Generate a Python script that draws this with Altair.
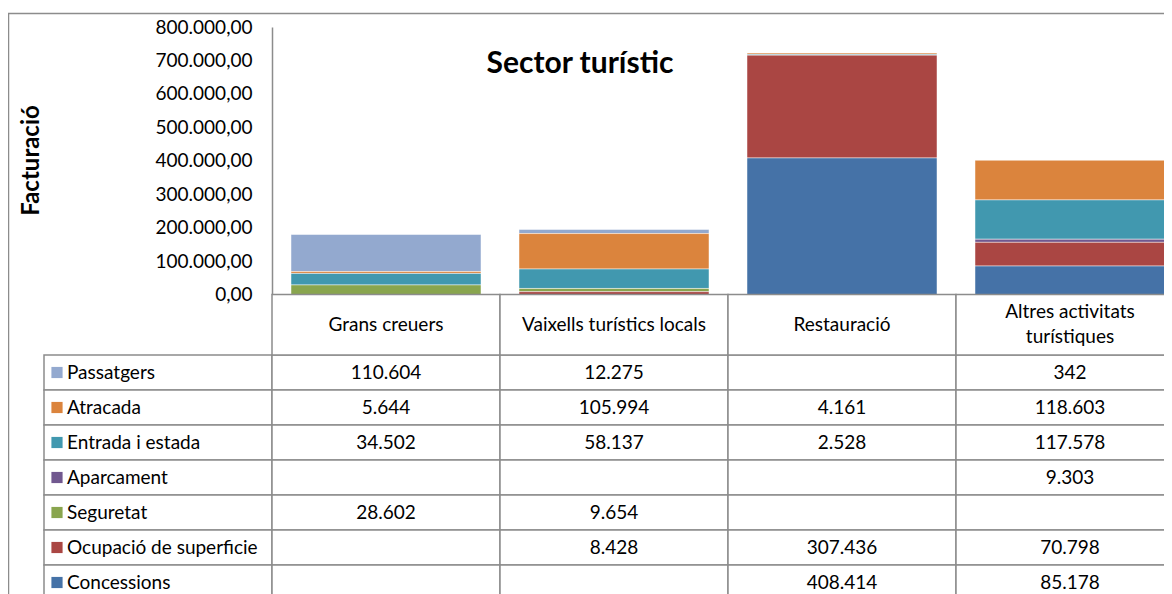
import textwrap
import altair as alt
import pandas as pd

# ---------------- data ----------------
categories = ["Grans creuers", "Vaixells turístics locals", "Restauració",
              "Altres activitats turístiques"]
series = ["Passatgers", "Atracada", "Entrada i estada", "Aparcament",
          "Seguretat", "Ocupació de superficie", "Concessions"]
passatgers = [110604, 12275, None, 342]
atracada = [5644, 105994, 4161, 118603]
entrada_estada = [34502, 58137, 2528, 117578]
aparcament = [None, None, None, 9303]
seguretat = [28602, 9654, None, None]
ocupacio = [None, 8428, 307436, 70798]
concessions = [None, None, 408414, 85178]
series_colors = ["#93A9CF", "#DB843D", "#4198AF", "#71588F",
                 "#89A54E", "#AA4643", "#4572A7"]
y_ticks = [0, 100000, 200000, 300000, 400000, 500000, 600000, 700000, 800000]

values_by_series = [passatgers, atracada, entrada_estada, aparcament,
                    seguretat, ocupacio, concessions]

# ---------------- layout / style ----------------
FONT = "Lato"
FS = 19
GRID = "#8C8C8C"
W, H = 892, 267.5
STEP = 228
LEG = "_legend"
cols = [LEG] + categories
ROW_TOP, ROW_H = 328, 35
LINE_H = 25

xscale = alt.Scale(type="band", domain=cols, range=[-STEP, STEP * 4],
                   paddingInner=0, paddingOuter=0)
yt_scale = alt.Scale(type="band", domain=series,
                     range=[ROW_TOP, ROW_TOP + ROW_H * len(series)],
                     paddingInner=0, paddingOuter=0)
cscale = alt.Scale(domain=series, range=series_colors)

rows = []
for si, (s, vals) in enumerate(zip(series, values_by_series)):
    for c, v in zip(categories, vals):
        rows.append({
            "series": s, "col": c, "value": v,
            "stack": len(series) - 1 - si,
            "label": "" if v is None else f"{v:,}".replace(",", "."),
        })
df = pd.DataFrame(rows)
bars_df = df.dropna(subset=["value"]).copy()

grid_df = pd.DataFrame([{"series": s, "col": c} for s in series for c in cols])
wrapped = [textwrap.wrap(c, 26) for c in categories]
hdr_df = pd.DataFrame({
    "col": categories,
    "hdr": ["\n".join(w) for w in wrapped],
    "shift": [-(len(w) - 1) * LINE_H / 2 for w in wrapped],
})
leg_df = pd.DataFrame({"series": series, "col": [LEG] * len(series)})
one_df = pd.DataFrame({"a": [1]})


def X(**kw):
    return alt.X("col:N", scale=xscale, axis=None, **kw)


YT = alt.Y("series:N", scale=yt_scale, axis=None)

border = alt.Chart(one_df).mark_rect(
    fill="transparent", stroke=GRID, strokeWidth=1.5
).encode(x=alt.value(-263.5), x2=alt.value(1200),
         y=alt.value(-13.5), y2=alt.value(1000))

bars = alt.Chart(bars_df).mark_bar(
    width=alt.RelativeBandSize(190 / STEP), stroke="white",
    strokeWidth=0.8, strokeOpacity=0.6, opacity=1
).encode(
    x=X(),
    y=alt.Y("value:Q", stack="zero",
            scale=alt.Scale(domain=[0, 800000], nice=False),
            axis=alt.Axis(
                values=y_ticks,
                labelExpr="replace(format(datum.value, ','), regexp(',', 'g'), '.') + ',00'",
                grid=False, ticks=False, domainColor=GRID, domainWidth=1.5,
                labelFont=FONT, labelFontSize=FS, labelColor="black",
                labelPadding=20,
                title="Facturació", titleFont=FONT, titleFontSize=24,
                titleFontWeight="bold", titleColor="black",
                titleX=-241, titleY=133, titleBaseline="middle",
                titleAlign="center", titleAngle=270)),
    color=alt.Color("series:N", scale=cscale, legend=None),
    order=alt.Order("stack:Q"),
)

cells = alt.Chart(grid_df).mark_rect(
    fill="white", stroke=GRID, strokeWidth=1.5
).encode(x=X(), y=YT)

hdr_cells = alt.Chart(hdr_df).mark_rect(
    fill="white", stroke=GRID, strokeWidth=1.5
).encode(x=X(), y=alt.value(H), y2=alt.value(ROW_TOP))

hdr_text = alt.Chart(hdr_df).mark_text(
    font=FONT, fontSize=FS, color="black", baseline="middle",
    lineBreak="\n", lineHeight=LINE_H
).encode(x=X(), y=alt.value((H + ROW_TOP) / 2),
         yOffset=alt.YOffset("shift:Q", scale=None), text="hdr:N")

val_text = alt.Chart(df).mark_text(
    font=FONT, fontSize=FS, color="black", baseline="middle"
).encode(x=X(), y=YT, text="label:N")

leg_sq = alt.Chart(leg_df).mark_square(
    size=125, xOffset=13, opacity=1
).encode(x=X(bandPosition=0), y=YT,
         color=alt.Color("series:N", scale=cscale, legend=None))

leg_text = alt.Chart(leg_df).mark_text(
    font=FONT, fontSize=FS, color="black", align="left", baseline="middle", dx=23
).encode(x=X(bandPosition=0), y=YT, text="series:N")

chart = alt.layer(
    border, bars, cells, hdr_cells, hdr_text, val_text, leg_sq, leg_text
).resolve_scale(y="independent").properties(
    width=W, height=H,
    autosize=alt.AutoSizeParams(type="none"),
    padding={"left": 264, "top": 19, "right": 0, "bottom": 299.5},
    background="white",
    title=alt.TitleParams("Sector turístic", font=FONT, fontSize=30,
                          fontWeight="bold", color="black", anchor="middle",
                          frame="group", dx=-138, dy=70),
).configure_view(strokeWidth=0)

chart.save("out.html", embed_options={"renderer": "svg", "actions": False})
